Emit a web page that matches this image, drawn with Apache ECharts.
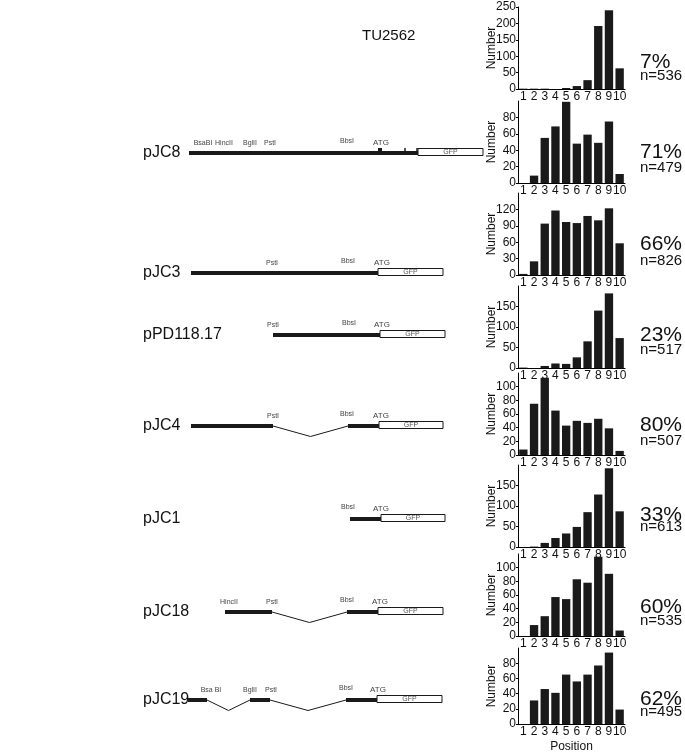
<!DOCTYPE html>
<html>
<head>
<meta charset="utf-8">
<script src="https://cdn.jsdelivr.net/npm/echarts@6/dist/echarts.min.js"></script>
<style>
  html, body { margin: 0; padding: 0; background: #fff; }
  #chart { width: 685px; height: 754px; }
</style>
</head>
<body>
<div id="chart"></div>
<script>
// --- histogram data: number of events per position bin ---
const positions = ['1', '2', '3', '4', '5', '6', '7', '8', '9', '10'];
const strains = ['TU2562', 'pJC8', 'pJC3', 'pPD118.17', 'pJC4', 'pJC1', 'pJC18', 'pJC19'];

const countsTU2562 = [1, 1, 1, 0, 3, 9, 27, 192, 240, 63];
const countsPJC8 = [0, 9, 55, 69, 99, 48, 59, 49, 75, 11];
const countsPJC3 = [2, 25, 94, 118, 97, 95, 108, 100, 122, 58];
const countsPPD118 = [1, 0, 5, 11, 10, 26, 65, 140, 182, 73];
const countsPJC4 = [8, 75, 113, 65, 43, 50, 47, 53, 39, 6];
const countsPJC1 = [0, 1, 10, 22, 33, 49, 85, 128, 192, 87];
const countsPJC18 = [0, 16, 29, 57, 54, 83, 78, 116, 91, 8];
const countsPJC19 = [0, 31, 46, 41, 65, 56, 65, 77, 94, 19];
const allCounts = [countsTU2562, countsPJC8, countsPJC3, countsPPD118,
                   countsPJC4, countsPJC1, countsPJC18, countsPJC19];

const yMax = [250, 100, 150, 200, 120, 200, 120, 100];
const yStep = [50, 20, 30, 50, 20, 50, 20, 20];

const percentLabels = ['7%', '71%', '66%', '23%', '80%', '33%', '60%', '62%'];
const nValues = [536, 479, 826, 517, 507, 613, 535, 495];

// --- construct maps (map units, ATG at 0) ---
const constructNames = ['pJC8', 'pJC3', 'pPD118.17', 'pJC4', 'pJC1', 'pJC18', 'pJC19'];

const exonsPJC8 = [[-191, 38]];
const exonsPJC3 = [[-189, -2]];
const exonsPPD118 = [[-107, 0]];
const exonsPJC4 = [[-189, -107], [-32, -1]];
const exonsPJC1 = [[-30, 1]];
const exonsPJC18 = [[-155, -108], [-33, -2]];
const exonsPJC19 = [[-192, -173], [-130, -110], [-34, -3]];

const gfpPJC8 = [38, 103];
const gfpPJC3 = [-2, 63];
const gfpPPD118 = [0, 65];
const gfpPJC4 = [-1, 63];
const gfpPJC1 = [1, 65];
const gfpPJC18 = [-2, 63];
const gfpPJC19 = [-3, 62];

const sitesPJC8 = [['BsaBI', -177], ['HincII', -156], ['BglII', -130], ['PstI', -110], ['BbsI', -33], ['ATG', 1]];
const sitesPJC3 = [['PstI', -108], ['BbsI', -32], ['ATG', 2]];
const sitesPPD118 = [['PstI', -107], ['BbsI', -31], ['ATG', 2]];
const sitesPJC4 = [['PstI', -107], ['BbsI', -33], ['ATG', 1]];
const sitesPJC1 = [['BbsI', -32], ['ATG', 1]];
const sitesPJC18 = [['HincII', -151], ['PstI', -108], ['BbsI', -33], ['ATG', 0]];
const sitesPJC19 = [['Bsa BI', -169], ['BglII', -130], ['PstI', -109], ['BbsI', -34], ['ATG', -2]];

// small marks on the pJC8 line: [position, width]
const marksPJC8 = [[0, 4], [25, 1.5], [37, 1.5]];

const allExons = [exonsPJC8, exonsPJC3, exonsPPD118, exonsPJC4, exonsPJC1, exonsPJC18, exonsPJC19];
const allGfp = [gfpPJC8, gfpPJC3, gfpPPD118, gfpPJC4, gfpPJC1, gfpPJC18, gfpPJC19];
const allSites = [sitesPJC8, sitesPJC3, sitesPPD118, sitesPJC4, sitesPJC1, sitesPJC18, sitesPJC19];
const allMarks = [marksPJC8, [], [], [], [], [], []];

// --- layout ---
const INK = '#1a1a1a';
const FONT = 'Liberation Sans, Arial, sans-serif';
const panelZero = [89, 183, 275, 368, 455, 547, 636, 730];
const panelH = 82;
const rowY = [153, 273, 335, 426, 519, 612, 700];
const pctY = [62, 152, 244, 335, 425, 515, 607, 699];
const nY = [76, 168, 261, 350, 441, 527, 621, 712];

const grid = [], xAxis = [], yAxis = [], series = [], graphic = [];

allCounts.forEach(function (counts, i) {
  grid.push({ left: 518, width: 107, top: panelZero[i] - panelH, height: panelH });
  const last = i === allCounts.length - 1;
  xAxis.push({
    gridIndex: i, type: 'category', data: positions,
    axisLine: { lineStyle: { color: '#000', width: 1 } },
    axisTick: { show: false },
    axisLabel: { interval: 0, margin: 2, fontSize: 12, fontFamily: FONT, color: '#111' },
    name: last ? 'Position' : '', nameLocation: 'middle', nameGap: 17, nameMoveOverlap: false,
    nameTextStyle: { fontSize: 12, fontFamily: FONT, color: '#111' }
  });
  yAxis.push({
    gridIndex: i, type: 'value', min: 0, max: yMax[i], interval: yStep[i],
    axisLine: { show: true, lineStyle: { color: '#000', width: 1 } },
    axisTick: { show: true, length: 2, lineStyle: { color: '#000' } },
    axisLabel: { margin: 2, fontSize: 12, fontFamily: FONT, color: '#111', showMaxLabel: i === 0 },
    splitLine: { show: false },
    name: 'Number', nameLocation: 'middle', nameGap: 20, nameMoveOverlap: false,
    nameTextStyle: { fontSize: 12, fontFamily: FONT, color: '#111' }
  });
  series.push({
    type: 'bar', xAxisIndex: i, yAxisIndex: i, data: counts,
    barWidth: '78%', itemStyle: { color: INK }, silent: true
  });
  graphic.push({ type: 'text', x: 640, y: pctY[i],
    style: { text: percentLabels[i], fontSize: 21, fontFamily: FONT, fill: '#111', verticalAlign: 'middle' } });
  graphic.push({ type: 'text', x: 640, y: nY[i],
    style: { text: 'n=' + nValues[i], fontSize: 15, fontFamily: FONT, fill: '#111', verticalAlign: 'middle' } });
});

function buildItems(k) {
  const items = [];
  const exons = allExons[k];
  exons.forEach(function (e, j) {
    if (j > 0) items.push({ kind: 'intron', v: [exons[j - 1][1], e[0]] });
    items.push({ kind: 'exon', v: e });
  });
  allMarks[k].forEach(function (m) { items.push({ kind: 'mark', v: [m[0] - m[1] / 2, m[0] + m[1] / 2] }); });
  items.push({ kind: 'gfp', v: allGfp[k] });
  allSites[k].forEach(function (s) { items.push({ kind: 'site', v: [s[1], s[1]], label: s[0] }); });
  return items;
}

constructNames.forEach(function (name, k) {
  const gi = allCounts.length + k;
  grid.push({ left: 130, width: 360, top: rowY[k] - 15, height: 30 });
  xAxis.push({ gridIndex: gi, type: 'value', min: -250, max: 110, show: false });
  yAxis.push({ gridIndex: gi, type: 'value', min: -1, max: 1, show: false });
  const items = buildItems(k);
  series.push({
    type: 'custom', xAxisIndex: gi, yAxisIndex: gi, clip: false, silent: true,
    encode: { x: [0, 1] },
    data: items.map(function (it) { return it.v; }),
    renderItem: function (params, api) {
      const it = items[params.dataIndex];
      const a = api.coord([api.value(0), 0]);
      const b = api.coord([api.value(1), 0]);
      const y0 = a[1];
      if (it.kind === 'exon') {
        return { type: 'rect', shape: { x: a[0], y: y0 - 2, width: b[0] - a[0], height: 4 }, style: { fill: INK } };
      }
      if (it.kind === 'intron') {
        const dip = api.coord([0, -0.7])[1];
        return { type: 'polyline', shape: { points: [[a[0], y0], [(a[0] + b[0]) / 2, dip], [b[0], y0]] },
          style: { stroke: INK, lineWidth: 1, fill: null } };
      }
      if (it.kind === 'mark') {
        return { type: 'rect', shape: { x: a[0], y: y0 - 5, width: b[0] - a[0], height: 5 }, style: { fill: INK } };
      }
      if (it.kind === 'gfp') {
        return { type: 'group', children: [
          { type: 'rect', shape: { x: a[0], y: y0 - 4.5, width: b[0] - a[0], height: 7 },
            style: { fill: '#fff', stroke: INK, lineWidth: 1 } },
          { type: 'text', style: { text: 'GFP', x: (a[0] + b[0]) / 2, y: y0 - 1, align: 'center',
            verticalAlign: 'middle', fontSize: 7, fontFamily: FONT, fill: '#555' } }
        ] };
      }
      const lift = it.label === 'BbsI' ? 12 : 10;
      return { type: 'text', style: { text: it.label, x: a[0], y: y0 - lift, align: 'center',
        verticalAlign: 'middle', fontSize: it.label === 'ATG' ? 8 : 7, fontFamily: FONT, fill: '#444' } };
    }
  });
  graphic.push({ type: 'text', x: 143, y: rowY[k],
    style: { text: name, fontSize: 16, fontFamily: FONT, fill: '#111', verticalAlign: 'middle' } });
});

graphic.push({ type: 'text', x: 362, y: 36,
  style: { text: strains[0], fontSize: 15, fontFamily: FONT, fill: '#111', verticalAlign: 'middle' } });

const chart = echarts.init(document.getElementById('chart'));
chart.setOption({
  animation: false,
  grid: grid, xAxis: xAxis, yAxis: yAxis, series: series, graphic: graphic
});
</script>
</body>
</html>
